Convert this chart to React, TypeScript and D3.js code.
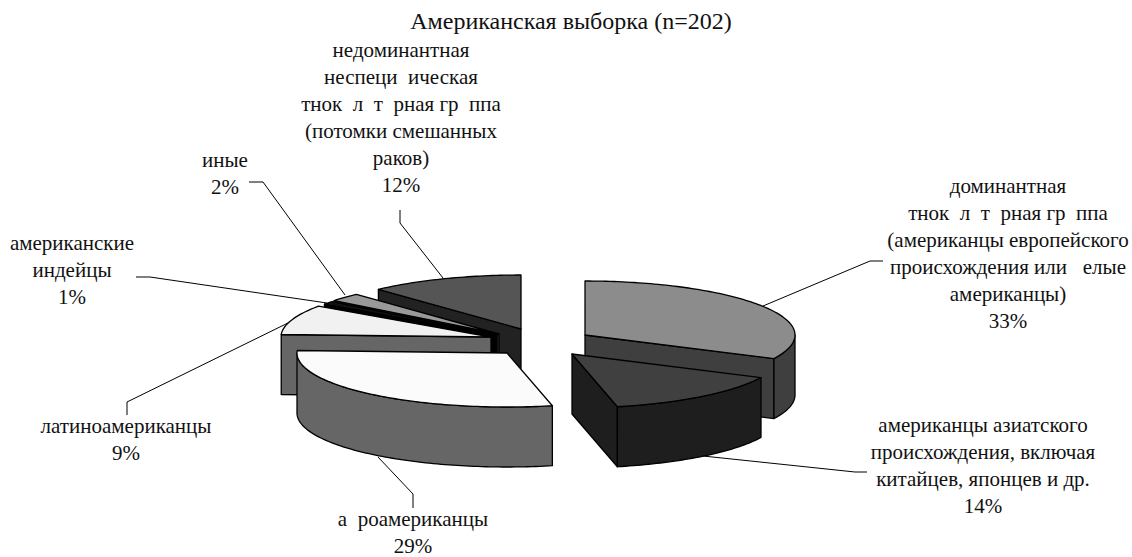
import React from "react";
import * as d3 from "d3";

const W = 1132, H = 557;
// respondents per group, n = 202 (estimated from wedge angles and the printed percentages)
const counts = [65, 29, 59, 18, 2, 5, 24];
const topFills = ["#8c8c8c", "#404040", "#fbfbfb", "#f1f1f1", "#111111", "#999999", "#555555"];
const wallFills = ["#3f3f3f", "#1e1e1e", "#666666", "#666666", "#000000", "#333333", "#222222"];
// exploded wedge apex per slice
const apexX = [585, 572, 507, 491, 497, 499, 521];
const apexY = [335, 354, 353, 337, 335, 334, 329];
const paintOrder = [6, 5, 4, 3, 2, 0, 1];
const RX = 210, RY = 54, DEPTH = 60;

const labelLines = [
  ["недоминантная", "неспеци  ическая", "тнок  л  т  рная гр  ппа", "(потомки смешанных", "раков)", "12%"],
  ["иные", "2%"],
  ["американские", "индейцы", "1%"],
  ["латиноамериканцы", "9%"],
  ["а  роамериканцы", "29%"],
  ["американцы азиатского", "происхождения, включая", "китайцев, японцев и др.", "14%"],
  ["доминантная", "тнок  л  т  рная гр  ппа", "(американцы европейского", "происхождения или   елые", "американцы)", "33%"],
];
const labelX = [401, 225, 72, 126, 413, 983, 1008];
const labelY = [57, 167, 250, 433, 526, 432, 193];
const leaders = [
  [[400, 210], [400, 223], [443, 278]],
  [[249, 182], [263, 182], [345, 295]],
  [[136, 277], [150, 277], [327, 303]],
  [[127, 415], [127, 402], [290, 322]],
  [[413, 508], [413, 494], [378, 457]],
  [[867, 472], [855, 472], [703, 456]],
  [[883, 261], [870, 261], [763, 306]],
];

const pie = d3.pie<number>().value(d => d).sort(null);
const arcs = pie(counts);
const lineGen = d3.line();

function pt(i: number, a: number, dy = 0): [number, number] {
  return [apexX[i] + RX * Math.sin(a), apexY[i] - RY * Math.cos(a) + dy];
}
function arcPts(i: number, a0: number, a1: number, dy = 0) {
  const n = Math.max(2, Math.ceil((a1 - a0) / 0.02));
  return d3.range(n + 1).map(k => pt(i, a0 + ((a1 - a0) * k) / n, dy));
}

export default function App() {
  const faces: React.ReactElement[] = [];
  paintOrder.forEach(i => {
    const { startAngle: a0, endAngle: a1 } = arcs[i];
    const apex: [number, number] = [apexX[i], apexY[i]];
    const s = pt(i, a0), e = pt(i, a1);
    const common = { stroke: "#000", strokeWidth: 1.3, strokeLinejoin: "round" as const };
    const quad = (p: [number, number], q: [number, number]) =>
      lineGen([p, q, [q[0], q[1] + DEPTH], [p[0], p[1] + DEPTH]]) + "Z";
    if (s[0] < apex[0]) faces.push(<path key={`s${i}`} d={quad(apex, s)} fill={wallFills[i]} {...common} />);
    if (e[0] > apex[0]) faces.push(<path key={`e${i}`} d={quad(e, apex)} fill={wallFills[i]} {...common} />);
    const w0 = Math.max(a0, Math.PI / 2), w1 = Math.min(a1, (3 * Math.PI) / 2);
    if (w1 > w0) {
      const top = arcPts(i, w0, w1);
      const bot = arcPts(i, w0, w1, DEPTH).reverse();
      faces.push(<path key={`o${i}`} d={lineGen([...top, ...bot]) + "Z"} fill={wallFills[i]} {...common} />);
    }
    faces.push(
      <path key={`t${i}`} d={lineGen([apex, ...arcPts(i, a0, a1)]) + "Z"} fill={topFills[i]} {...common} />
    );
  });
  return (
    <svg width={W} height={H} style={{ position: "absolute", left: 0, top: 0, background: "#fff" }}
      fontFamily="'Liberation Serif', serif" fill="#000">
      <text x={571} y={29} fontSize={24} textAnchor="middle" fill="#111">Американская выборка (n=202)</text>
      {leaders.map((l, i) => (
        <path key={i} d={lineGen(l as [number, number][])!} fill="none" stroke="#000" strokeWidth={1} />
      ))}
      {faces}
      {labelLines.map((lines, i) => (
        <text key={i} fontSize={21} textAnchor="middle" fill="#111">
          {lines.map((t, j) => (
            <tspan key={j} x={labelX[i]} y={labelY[i] + j * 27} style={{ whiteSpace: "pre" }}>{t}</tspan>
          ))}
        </text>
      ))}
    </svg>
  );
}
